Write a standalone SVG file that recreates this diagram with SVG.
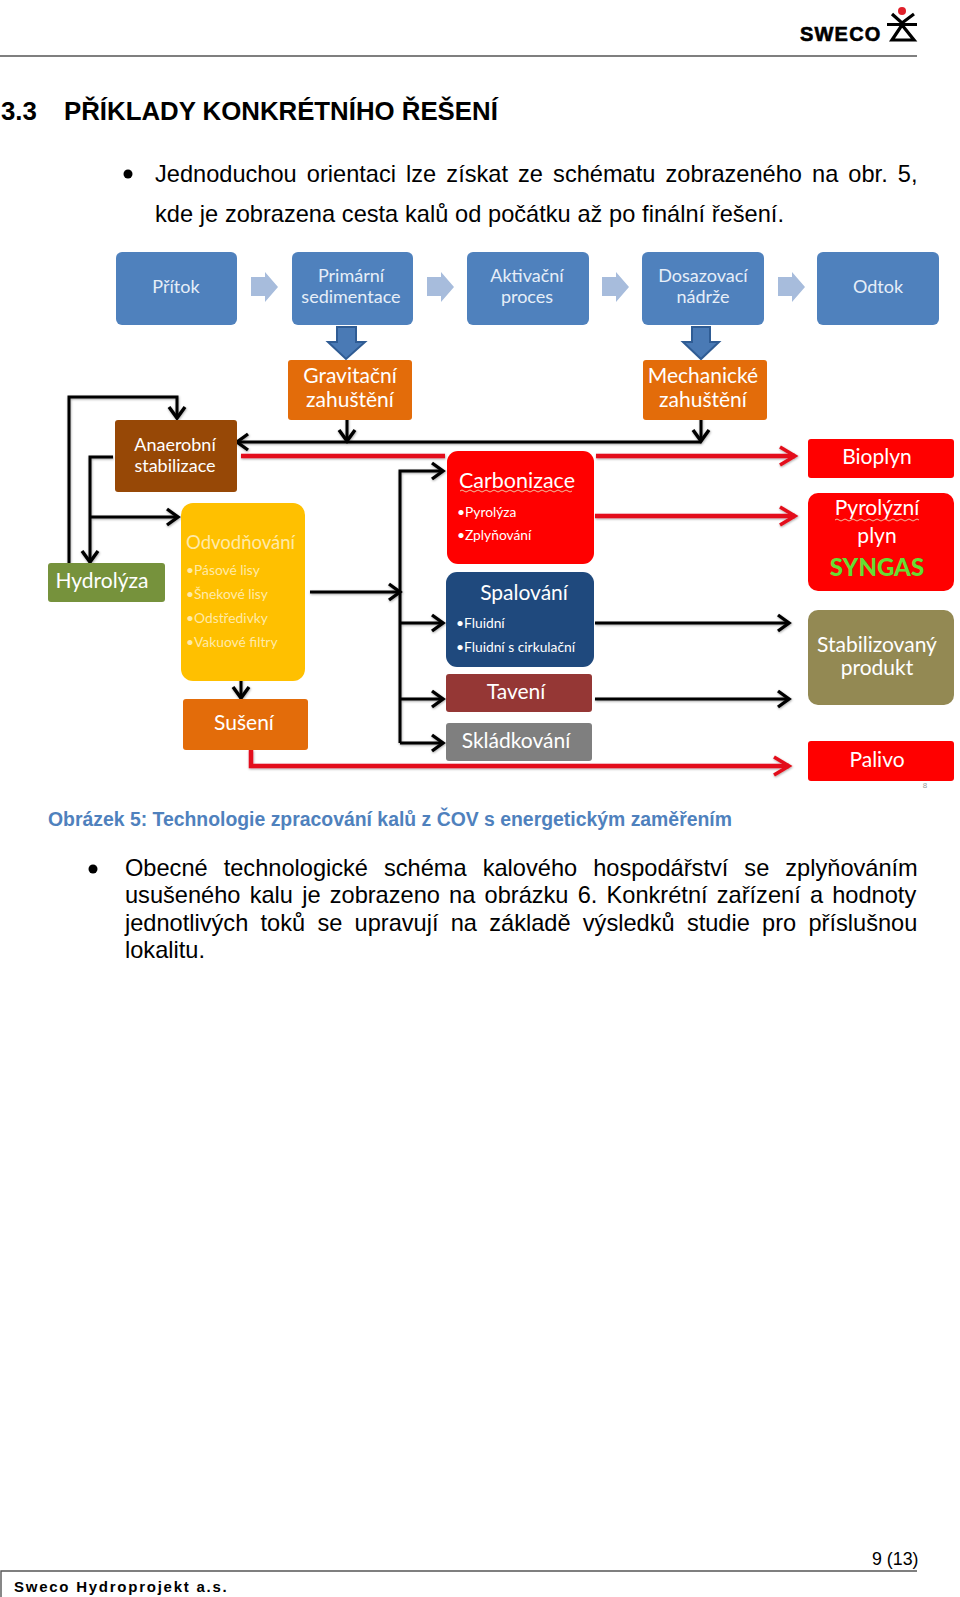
<svg xmlns="http://www.w3.org/2000/svg" width="960" height="1597" viewBox="0 0 960 1597">
<style>
text{font-family:"Lato","Open Sans","Liberation Sans",sans-serif;fill:#fff;text-anchor:middle}
.d{font-family:"Liberation Sans",Arial,sans-serif;fill:#000;text-anchor:start;font-size:23.6px}
.b{font-size:18px;fill:#e6eef8}
.o{font-size:21px}
.m{font-size:21px}
.c{font-size:21.500px}
.s{font-size:13.800px;text-anchor:start}
.y{fill:#ffeaa8}
.k{fill:none;stroke:#000;stroke-width:3}
.r{fill:none;stroke:#e3101a;stroke-width:4.500}
.sq{fill:none;stroke:#f0c0a0;stroke-width:1}
.la{fill:#a7bcdc}
.da{fill:#4a7ab5;stroke:#2f5c94;stroke-width:2}
</style>
<defs>
<marker id="ak" markerUnits="userSpaceOnUse" markerWidth="18" markerHeight="20" refX="14" refY="10" orient="auto"><path d="M3 2L14 10L3 18" fill="none" stroke="#000" stroke-width="3.400"/></marker>
<marker id="ar" markerUnits="userSpaceOnUse" markerWidth="24" markerHeight="24" refX="19" refY="12" orient="auto"><path d="M4 3L19 12L4 21" fill="none" stroke="#e3101a" stroke-width="3.600"/></marker>
<filter id="sh" x="-5%" y="-5%" width="110%" height="110%"><feDropShadow dx="0.5" dy="1" stdDeviation="1" flood-opacity="0.35"/></filter>
</defs>
<g id="page">
<path d="M0 56H917" stroke="#000" stroke-width="1.200" fill="none"/>
<path d="M1 1597V1571H917" stroke="#555" stroke-width="1.400" fill="none"/>
<text class="d" x="1" y="120" style="font-weight:700;font-size:25.800px">3.3</text>
<text class="d" x="64" y="120" style="font-weight:700;font-size:25.800px">PŘÍKLADY KONKRÉTNÍHO ŘEŠENÍ</text>
<circle cx="128" cy="174" r="4.500" fill="#000"/>
<text class="d" x="155" y="182" word-spacing="3.550">Jednoduchou orientaci lze získat ze schématu zobrazeného na obr. 5,</text>
<text class="d" x="155" y="222" word-spacing="0.200">kde je zobrazena cesta kalů od počátku až po finální řešení.</text>
<text class="d" x="48" y="826" style="font-weight:700;font-size:19.400px;fill:#4f81bd">Obrázek 5: Technologie zpracování kalů z ČOV s energetickým zaměřením</text>
<circle cx="93" cy="869" r="4.500" fill="#000"/>
<text class="d" x="125" y="876" word-spacing="9.500">Obecné technologické schéma kalového hospodářství se zplyňováním</text>
<text class="d" x="125" y="903" word-spacing="2.650">usušeného kalu je zobrazeno na obrázku 6. Konkrétní zařízení a hodnoty</text>
<text class="d" x="125" y="931" word-spacing="5.700">jednotlivých toků se upravují na základě výsledků studie pro příslušnou</text>
<text class="d" x="125" y="958">lokalitu.</text>
<text class="d" x="872" y="1565" style="font-size:17.800px">9 (13)</text>
<text class="d" x="14" y="1592" style="font-weight:700;font-size:15px;letter-spacing:1.750px">Sweco Hydroprojekt a.s.</text>
<text class="d" x="925" y="788" style="font-size:8px;fill:#999;text-anchor:middle">8</text>
</g>
<g id="logo">
<text class="d" x="800" y="41" style="font-weight:700;font-size:20px;letter-spacing:1.200px;stroke:#000;stroke-width:.6">SWECO</text>
<circle cx="902" cy="11" r="4" fill="#e0202a"/>
<path d="M892 14L902 23L914 14M887 24.500H917M902 25L892 40H914Z" fill="none" stroke="#000" stroke-width="3.200"/>
</g>
<g id="connectors">
<g filter="url(#sh)">
<path class="k" d="M69 563V397H177V418" marker-end="url(#ak)"/>
<path class="k" d="M113 457H90V562" marker-end="url(#ak)"/>
<path class="k" d="M90 517H178" marker-end="url(#ak)"/>
<path class="k" d="M701 442H237" marker-end="url(#ak)"/>
<path class="k" d="M347 413V441" marker-end="url(#ak)"/>
<path class="k" d="M701 413V441" marker-end="url(#ak)"/>
<path class="k" d="M400 743V471H443" marker-end="url(#ak)"/>
<path class="k" d="M310 592H400" marker-end="url(#ak)"/>
<path class="k" d="M400 623H443" marker-end="url(#ak)"/>
<path class="k" d="M400 699H443" marker-end="url(#ak)"/>
<path class="k" d="M400 743H443" marker-end="url(#ak)"/>
<path class="k" d="M241 669V698" marker-end="url(#ak)"/>
<path class="k" d="M595 623H789" marker-end="url(#ak)"/>
<path class="k" d="M595 699H789" marker-end="url(#ak)"/>
<path class="r" d="M241 456H445"/>
<path class="r" d="M596 456H795" marker-end="url(#ar)"/>
<path class="r" d="M595 516H795" marker-end="url(#ar)"/>
<path class="r" d="M251 750V766H789" marker-end="url(#ar)"/>
</g>
<path class="la" d="M251 277H265V272L278 287L265 302V296H251Z"/>
<path class="la" d="M427 277H441V272L454 287L441 302V296H427Z"/>
<path class="la" d="M602 277H616V272L629 287L616 302V296H602Z"/>
<path class="la" d="M778 277H792V272L805 287L792 302V296H778Z"/>
<path class="da" d="M337 327H356V342H365L346 359L328 342H337Z"/>
<path class="da" d="M692 327H710V342H719L701 359L683 342H692Z"/>
</g>
<g id="pritok"><rect x="116" y="252" width="121" height="73" rx="6" fill="#4f81bd"/><text class="b" x="176" y="293">Přítok</text></g>
<g id="primarni"><rect x="292" y="252" width="121" height="73" rx="6" fill="#4f81bd"/><text class="b" x="351" y="282">Primární</text><text class="b" x="351" y="303">sedimentace</text></g>
<g id="aktivacni"><rect x="467" y="252" width="122" height="73" rx="6" fill="#4f81bd"/><text class="b" x="527" y="282">Aktivační</text><text class="b" x="527" y="303">proces</text></g>
<g id="dosazovaci"><rect x="642" y="252" width="122" height="73" rx="6" fill="#4f81bd"/><text class="b" x="703" y="282">Dosazovací</text><text class="b" x="703" y="303">nádrže</text></g>
<g id="odtok"><rect x="817" y="252" width="122" height="73" rx="6" fill="#4f81bd"/><text class="b" x="878" y="293">Odtok</text></g>
<g id="gravitacni"><rect x="288" y="360" width="124" height="60" rx="3" fill="#e36c0a"/><text class="o" x="350" y="383">Gravitační</text><text class="o" x="350" y="407">zahuštění</text></g>
<g id="mechanicke"><rect x="643" y="360" width="124" height="60" rx="3" fill="#e36c0a"/><text class="o" x="703" y="383">Mechanické</text><text class="o" x="703" y="407">zahuštění</text></g>
<g id="anaerobni"><rect x="115" y="420" width="122" height="72" rx="3" fill="#974806"/><text class="b" style="fill:#fff" x="175" y="451">Anaerobní</text><text class="b" style="fill:#fff" x="175" y="472">stabilizace</text></g>
<g id="odvodnovani"><rect x="181" y="503" width="124" height="178" rx="12" fill="#ffc000"/><text class="y" style="text-anchor:start;font-size:18.500px" x="186" y="549">Odvodňování</text><text class="s y" x="186" y="575">•Pásové lisy</text><text class="s y" x="186" y="599">•Šnekové lisy</text><text class="s y" x="186" y="623">•Odstředivky</text><text class="s y" x="186" y="647">•Vakuové filtry</text></g>
<g id="hydrolyza"><rect x="48" y="563" width="117" height="39" rx="3" fill="#76923c"/><text class="m" x="102" y="588">Hydrolýza</text></g>
<g id="suseni"><rect x="183" y="699" width="125" height="51" rx="3" fill="#e36c0a"/><text class="m" x="244" y="730">Sušení</text></g>
<g id="carbonizace"><rect x="447" y="451" width="147" height="113" rx="11" fill="#f00"/><text class="c" x="517" y="488">Carbonizace</text><path class="sq" d="M460 491q2-2 4 0t4 0t4 0t4 0t4 0t4 0t4 0t4 0t4 0t4 0t4 0t4 0t4 0t4 0t4 0t4 0t4 0t4 0t4 0t4 0t4 0t4 0t4 0t4 0t4 0t4 0t4 0t4 0"/><text class="s" x="457" y="517">•Pyrolýza</text><text class="s" x="457" y="540">•Zplyňování</text></g>
<g id="spalovani"><rect x="446" y="572" width="148" height="95" rx="11" fill="#1f497d"/><text class="m" x="524" y="600">Spalování</text><text class="s" x="456" y="628">•Fluidní</text><text class="s" x="456" y="652">•Fluidní s cirkulační</text></g>
<g id="taveni"><rect x="446" y="674" width="146" height="38" rx="3" fill="#953735"/><text class="m" x="516" y="699">Tavení</text></g>
<g id="skladkovani"><rect x="446" y="723" width="146" height="38" rx="3" fill="#7f7f7f"/><text class="m" x="516" y="748">Skládkování</text></g>
<g id="bioplyn"><rect x="808" y="439" width="146" height="39" rx="3" fill="#f00"/><text class="m" x="877" y="464">Bioplyn</text></g>
<g id="pyrolyzni"><rect x="808" y="493" width="146" height="98" rx="10" fill="#f00"/><text class="m" x="877" y="515">Pyrolýzní</text><path class="sq" d="M835 520q2-2 4 0t4 0t4 0t4 0t4 0t4 0t4 0t4 0t4 0t4 0t4 0t4 0t4 0t4 0t4 0t4 0t4 0t4 0t4 0t4 0t4 0"/><text class="m" x="877" y="543">plyn</text><text x="877" y="576" style="font-size:24px;font-weight:900;fill:#66dd33">SYNGAS</text></g>
<g id="stabilizovany"><rect x="808" y="610" width="146" height="95" rx="10" fill="#938953"/><text class="m" x="877" y="652">Stabilizovaný</text><text class="m" x="877" y="675">produkt</text></g>
<g id="palivo"><rect x="808" y="741" width="146" height="40" rx="3" fill="#f00"/><text class="m" x="877" y="767">Palivo</text></g>
</svg>
